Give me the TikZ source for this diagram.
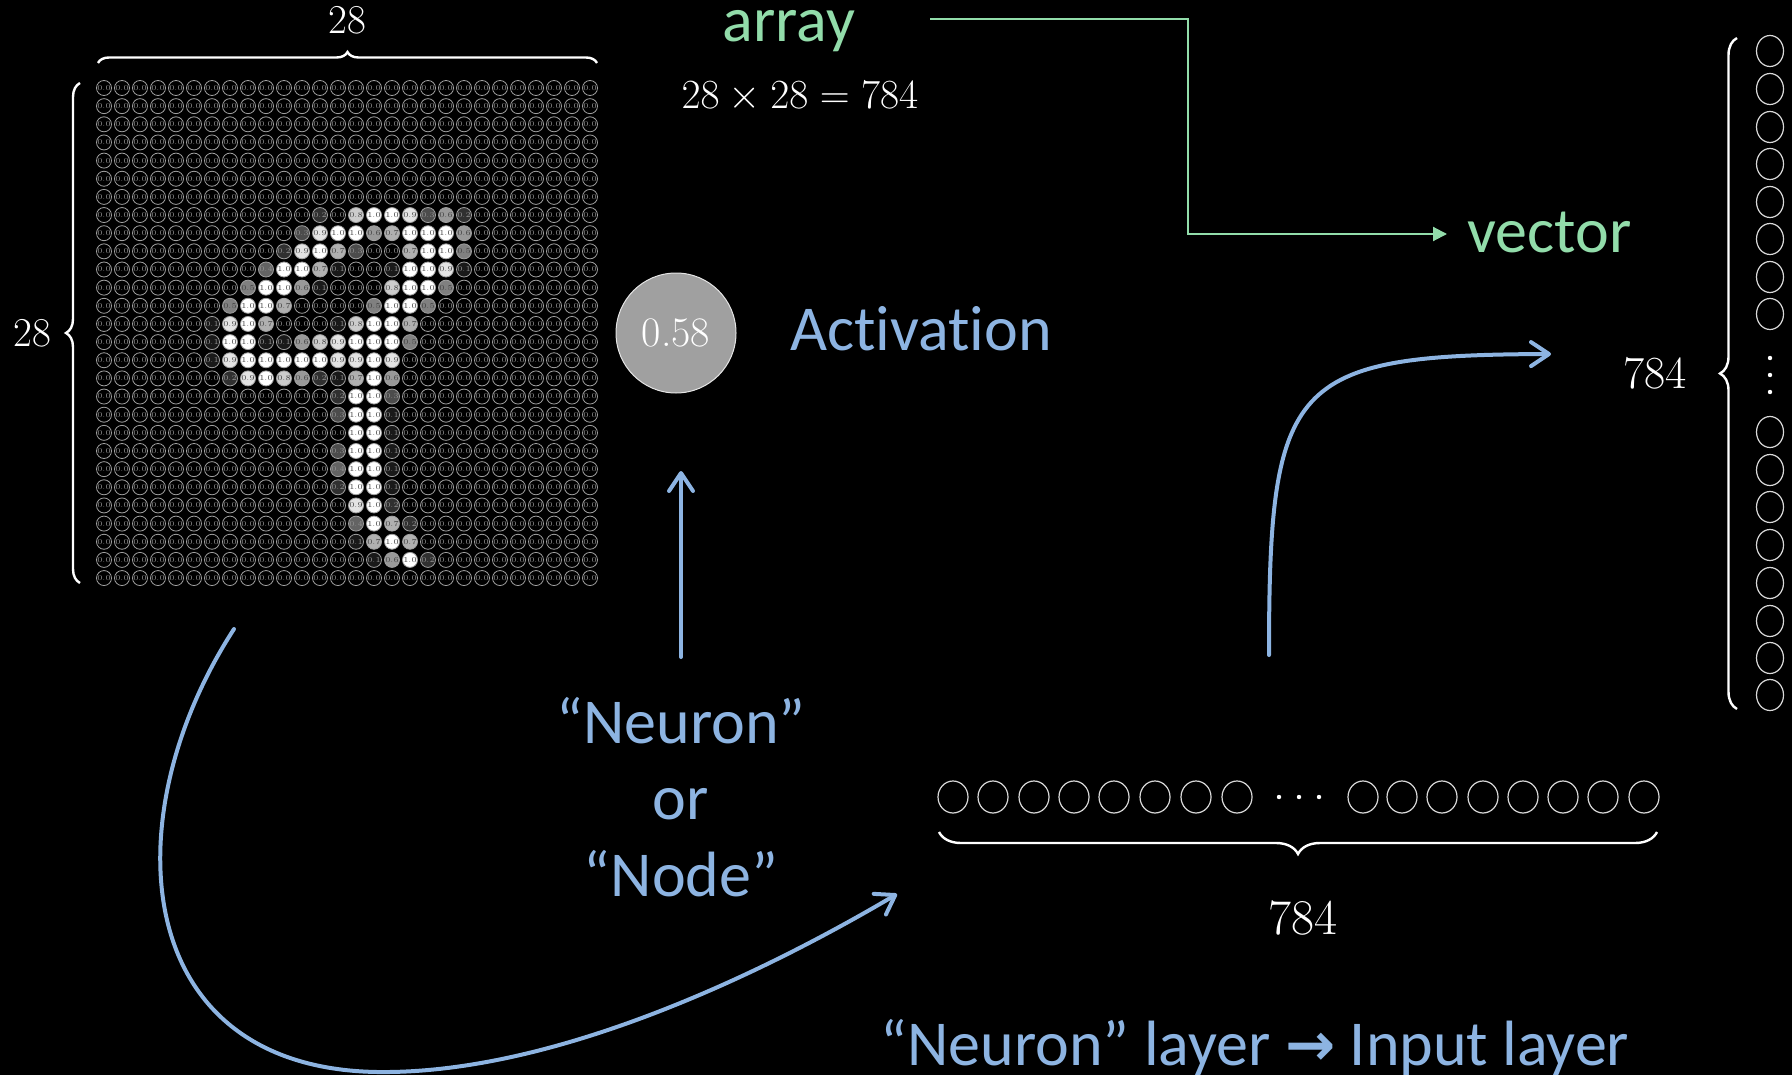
\documentclass[tikz,border=0pt]{standalone}
\usepackage{fontspec}
\usetikzlibrary{arrows.meta,decorations.pathreplacing,shapes.geometric}
\newfontfamily\carl[Ligatures=NoCommon]{Carlito}
\newfontfamily\djv{DejaVu Sans}
\definecolor{mint}{RGB}{146,220,170}
\definecolor{sky}{RGB}{141,180,226}
\definecolor{disk}{RGB}{160,160,160}
\def\pxdata{7/12/0.2,7/14/0.8,7/15/1.0,7/16/1.0,7/17/0.9,7/18/0.3,7/19/0.6,7/20/0.2,
8/11/0.3,8/12/0.9,8/13/1.0,8/14/1.0,8/15/0.6,8/16/0.7,8/17/1.0,8/18/1.0,8/19/1.0,8/20/0.6,
9/10/0.2,9/11/0.9,9/12/1.0,9/13/0.7,9/14/0.3,9/17/0.7,9/18/1.0,9/19/1.0,9/20/0.5,
10/9/0.4,10/10/1.0,10/11/1.0,10/12/0.7,10/13/0.1,10/16/0.1,10/17/1.0,10/18/1.0,10/19/0.9,10/20/0.1,
11/8/0.5,11/9/1.0,11/10/1.0,11/11/0.6,11/12/0.1,11/16/0.8,11/17/1.0,11/18/1.0,11/19/0.5,
12/7/0.5,12/8/1.0,12/9/1.0,12/10/0.7,12/15/0.5,12/16/1.0,12/17/1.0,12/18/0.5,
13/6/0.1,13/7/0.9,13/8/1.0,13/9/0.7,13/13/0.1,13/14/0.8,13/15/1.0,13/16/1.0,13/17/0.7,
14/6/0.1,14/7/1.0,14/8/1.0,14/9/0.1,14/10/0.1,14/11/0.6,14/12/0.8,14/13/0.9,14/14/1.0,14/15/1.0,14/16/1.0,14/17/0.5,
15/6/0.1,15/7/0.9,15/8/1.0,15/9/1.0,15/10/1.0,15/11/1.0,15/12/1.0,15/13/0.9,15/14/0.9,15/15/1.0,15/16/0.9,
16/7/0.2,16/8/0.9,16/9/1.0,16/10/0.8,16/11/0.6,16/12/0.2,16/13/0.1,16/14/0.7,16/15/1.0,16/16/0.6,
17/13/0.2,17/14/1.0,17/15/1.0,17/16/0.3,
18/13/0.3,18/14/1.0,18/15/1.0,18/16/0.1,
19/14/1.0,19/15/1.0,19/16/0.1,
20/13/0.3,20/14/1.0,20/15/1.0,20/16/0.1,
21/13/0.4,21/14/1.0,21/15/1.0,21/16/0.1,
22/13/0.2,22/14/1.0,22/15/1.0,22/16/0.1,
23/14/0.9,23/15/1.0,23/16/0.2,
24/14/0.4,24/15/1.0,24/16/0.7,24/17/0.2,
25/14/0.1,25/15/0.7,25/16/1.0,25/17/0.7,
26/15/0.1,26/16/0.6,26/17/1.0,26/18/0.2}
\begin{document}
\begin{tikzpicture}[x=0.5pt,y=-0.5pt,
  lbl/.style={font=\carl\fontsize{32}{38}\selectfont, inner sep=0pt, anchor=base},
  num/.style={text=white, font=\fontsize{20.5}{24}\selectfont, inner sep=0pt, anchor=base},
  cell/.style={circle, minimum size=7.5pt, inner sep=0pt, line width=0.4pt, draw=gray!75,
    font=\fontsize{3.8}{3.8}\selectfont},
  brc/.style={draw=white, line width=1.2pt, decorate, decoration={brace, amplitude=#1}},
  vcirc/.style={ellipse, draw=white!85!black, line width=0.6pt, minimum width=13.5pt, minimum height=15.5pt, inner sep=0pt},
  hcirc/.style={ellipse, draw=white!85!black, line width=0.6pt, minimum width=15pt, minimum height=16pt, inner sep=0pt},
  barrow/.style={draw=sky, line width=2pt, line cap=round, -{Straight Barb[length=9pt,width=12pt,round]}},
  garrow/.style={draw=mint, line width=1pt, -{Triangle[length=7pt,width=7pt]}}
]
\fill[black] (0,0) rectangle (1792,1075);
\useasboundingbox (0,0) rectangle (1792,1075);
\foreach \i/\j/\v in \pxdata {\expandafter\xdef\csname px@\i @\j\endcsname{\v}}
% grid
\foreach \i in {0,...,27}{
  \foreach \j in {0,...,27}{
    \ifcsname px@\i @\j\endcsname \edef\val{\csname px@\i @\j\endcsname}\else\def\val{0.0}\fi
    \pgfmathtruncatemacro\pct{\val*100}
    \ifnum\pct>45 \def\tc{black!75}\else\def\tc{gray!85}\fi
    \node[cell, fill=white!\pct!black, text=\tc] (c-\i-\j) at ({104+18*\j},{88+18.15*\i}) {\val};
  }}
% braces and numbers around grid
\draw[brc=5.5pt] (98,63) -- (597,63);
\node[num] (t28) at (347,34) {28};
\draw[brc=7pt] (80,583) -- (80,83);
\node[num] (l28) at (32,346) {28};
% activation
\node[circle, fill=disk, draw=white!80!gray, line width=0.5pt, minimum size=60pt, inner sep=0pt,
  text=white, font=\fontsize{21}{24}\selectfont] (act) at (676,333) {0.58};
\node[lbl, text=sky] (actlbl) at (921,350) {Activation};
% top labels
\node[lbl, text=mint] (arr) at (789,42) {array};
\node[num] (eq) at (800,109) {$28\times28=784$};
\node[lbl, text=mint, anchor=base west] (vec) at (1467,253) {vector};
\coordinate (gs) at (930,19);
\coordinate (gm) at (1188,234);
\coordinate (ge) at (1447,234);
\draw[garrow] (gs) -| (gm) -- (ge);
% vertical vector
\foreach \y [count=\k] in {51,89,127,164,202,239,277,314,432,470,507,545,583,621,658,695}{
  \node[vcirc] (v\k) at (1770,\y) {};
}
\foreach \y in {358,375,392}{ \fill[white] (1770,\y) circle (1.1pt); }
\draw[brc=8.5pt] (1737,709) -- (1737,38);
\node[num, font=\fontsize{23}{26}\selectfont] (r784) at (1655,388) {784};
% horizontal row
\foreach \x [count=\k] in {953,993,1034,1074,1114,1155,1196,1237,1363,1402,1442,1483,1523,1563,1603,1644}{
  \node[hcirc] (h\k) at (\x,797) {};
}
\foreach \x in {1279,1299,1319}{ \fill[white] (\x,797) circle (1.1pt); }
\draw[brc=11pt] (1657,832) -- (939,832);
\node[num, font=\fontsize{25}{28}\selectfont] (b784) at (1303,934) {784};
% neuron labels
\node[lbl, text=sky] (n1) at (681,743) {“Neuron”};
\node[lbl, text=sky] (n2) at (681,819) {or};
\node[lbl, text=sky] (n3) at (681,896) {“Node”};
\node[lbl, text=sky] (bt) at (1255,1065) {“Neuron” layer {\djv\bfseries\fontsize{30}{36}\selectfont →} Input layer};
% blue arrows
\coordinate (a1s) at (681,657);
\coordinate (a1e) at (681,471);
\draw[barrow] (a1s) -- (a1e);
\coordinate (a2s) at (1269,655);
\coordinate (a2e) at (1551,354);
\draw[barrow] (a2s) .. controls (1269,380) and (1290,355) .. (a2e);
\coordinate (a3s) at (234,629);
\coordinate (a3m) at (389,1072);
\coordinate (a3e) at (897,894);
\draw[barrow] (a3s) .. controls (110,820) and (130,1076) .. (a3m) .. controls (560,1070) and (760,975) .. (a3e);
\end{tikzpicture}
\end{document}
